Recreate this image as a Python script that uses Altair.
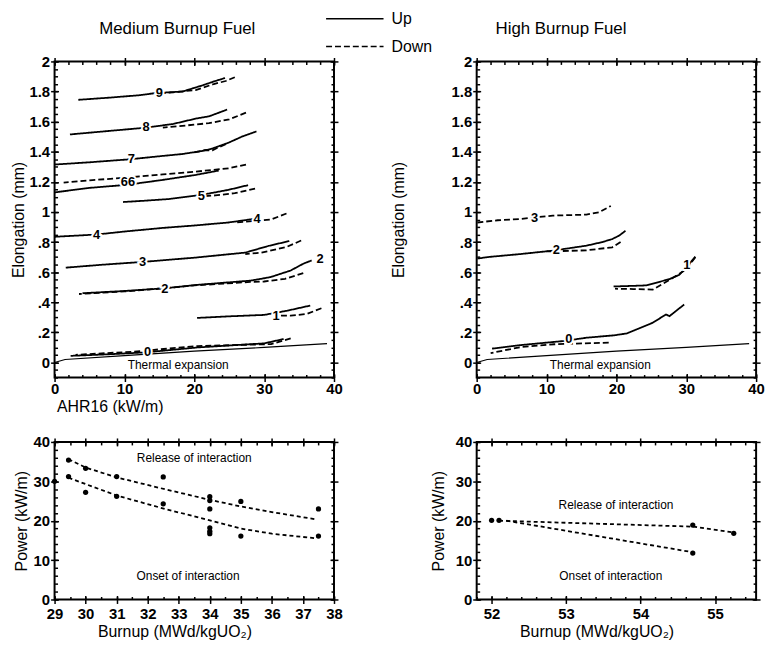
import altair as alt
import pandas as pd
import numpy as np

FONT = "Liberation Sans"

# ---------------- Medium burnup fuel: elongation (mm) vs AHR16 (kW/m)
med = {
    ("9", "Up"):   ([3.4, 8, 12, 14.5, 18.3, 21.1, 23, 24.4], [1.745, 1.76, 1.775, 1.79, 1.80, 1.84, 1.87, 1.89]),
    ("9", "Down"): ([25.8, 24.5, 22.8, 20.2, 17, 14.5], [1.895, 1.87, 1.85, 1.81, 1.795, 1.785]),
    ("8", "Up"):   ([2.2, 7, 13.1, 17, 20.2, 22.1, 24.7], [1.515, 1.535, 1.56, 1.585, 1.62, 1.635, 1.68]),
    ("8", "Down"): ([27.4, 25, 22.1, 18.3, 15.5], [1.66, 1.615, 1.59, 1.572, 1.56]),
    ("7", "Up"):   ([0, 5, 10.8, 15, 18.3, 21.1, 22.5, 24.9, 26.8, 28.9], [1.315, 1.33, 1.35, 1.37, 1.385, 1.405, 1.42, 1.46, 1.50, 1.535]),
    ("7", "Down"): ([24.5, 23.5, 22.6, 21.5, 20], [1.45, 1.43, 1.41, 1.41, 1.395]),
    ("6", "Up"):   ([0, 5, 10.3, 15.5, 20.2, 23.5], [1.13, 1.16, 1.18, 1.213, 1.246, 1.275]),
    ("6", "Down"): ([27.4, 24.9, 20.2, 15.5, 10.8, 5, 1.3], [1.315, 1.29, 1.268, 1.25, 1.23, 1.21, 1.195]),
    ("5", "Up"):   ([9.8, 13, 16.4, 21.1, 24.9, 27.7], [1.066, 1.075, 1.086, 1.114, 1.147, 1.178]),
    ("5", "Down"): ([28.7, 25.8, 23, 21.1], [1.155, 1.125, 1.11, 1.103]),
    ("4", "Up"):   ([0, 6, 10, 15.5, 20, 24.9, 28.7], [0.835, 0.85, 0.87, 0.894, 0.91, 0.93, 0.955]),
    ("4", "Down"): ([33.2, 31, 29.2, 25.8], [0.99, 0.95, 0.943, 0.93]),
    ("3", "Up"):   ([1.6, 7, 12.6, 20.2, 27.3, 30.6, 33.6], [0.63, 0.65, 0.668, 0.697, 0.73, 0.774, 0.807]),
    ("3", "Down"): ([35.3, 33.2, 29.6, 27.3], [0.81, 0.767, 0.73, 0.72]),
    ("2", "Up"):   ([4, 10, 15.8, 20.5, 28.1, 30.9, 33.8, 35.6, 36.8], [0.46, 0.475, 0.493, 0.516, 0.544, 0.567, 0.611, 0.656, 0.678]),
    ("2", "Down"): ([35.6, 33, 30, 28, 20, 15, 10, 3.5], [0.593, 0.556, 0.538, 0.535, 0.512, 0.49, 0.472, 0.455]),
    ("1", "Up"):   ([20.4, 25.2, 30, 33.3, 36.6], [0.296, 0.307, 0.316, 0.344, 0.378]),
    ("1", "Down"): ([38.2, 36.1, 33.8, 31.9], [0.36, 0.322, 0.311, 0.311]),
    ("0", "Up"):   ([2.3, 8, 13, 20.5, 30, 32.8], [0.044, 0.055, 0.067, 0.1, 0.127, 0.156]),
    ("0", "Down"): ([33.8, 31, 20.5, 11, 3], [0.16, 0.122, 0.109, 0.071, 0.051]),
}
med_lbl_text = ["9", "8", "7", "66", "5", "4", "4", "3", "2", "2", "1", "0"]
med_lbl_x = [15, 13.1, 11, 10.5, 21, 6, 29, 12.6, 15.8, 38.0, 31.7, 13.3]
med_lbl_y = [1.79, 1.562, 1.352, 1.2, 1.108, 0.85, 0.955, 0.668, 0.49, 0.685, 0.31, 0.068]

# ---------------- High burnup fuel
high = {
    ("3", "Down"): ([0.1, 3, 6.2, 10.9, 15.7, 17.5, 19.2], [0.93, 0.945, 0.953, 0.976, 0.982, 0.998, 1.04]),
    ("2", "Up"):   ([0.1, 1.5, 6.2, 10.9, 15.7, 18, 19.4, 20.4, 21.3], [0.69, 0.70, 0.72, 0.743, 0.776, 0.8, 0.82, 0.843, 0.875]),
    ("2", "Down"): ([20.6, 19.4, 15.7, 11.9, 10], [0.80, 0.765, 0.745, 0.74, 0.738]),
    ("1", "Up"):   ([19.6, 24.3, 27.6, 29, 30.1, 31.3], [0.505, 0.512, 0.554, 0.582, 0.637, 0.703]),
    ("1", "Down"): ([31.3, 29.9, 28, 25.2, 22.4, 19.8], [0.70, 0.615, 0.56, 0.484, 0.488, 0.49]),
    ("0", "Up"):   ([2.2, 6.4, 12.5, 15.8, 19.6, 21.5, 25.2, 27.1, 27.6, 29.7], [0.092, 0.116, 0.143, 0.165, 0.18, 0.193, 0.264, 0.319, 0.308, 0.385]),
    ("0", "Down"): ([18.9, 11.1, 6.4, 2], [0.132, 0.121, 0.103, 0.062]),
}
high_lbl_text = ["3", "2", "1", "0"]
high_lbl_x = [8.3, 11.4, 30.1, 13.2]
high_lbl_y = [0.96, 0.745, 0.645, 0.155]

# thermal expansion line (both panels)
therm_x = [0, 1.5, 10, 20, 30, 39]
therm_y = [0, 0.02, 0.045, 0.075, 0.1, 0.125]

# ---------------- Power vs burnup (medium)
bl_burnup = [29, 29.45, 29.45, 30, 30, 31, 31, 32.5, 32.5, 34, 34, 34, 34, 34, 34, 35, 35, 37.5, 37.5]
bl_power = [30, 35.4, 31.2, 33.3, 27.2, 31.2, 26.2, 31.1, 24.3, 26.1, 25.1, 23, 18.2, 17.3, 16.7, 24.9, 16.1, 23, 16.1]
bl_fit_x = [29.45, 30, 31, 32.55, 34, 35, 36, 37.45]
bl_release_y = [35.6, 33.5, 31, 28, 25.3, 23.6, 22.2, 20.3]
bl_onset_y = [30.9, 29.3, 26.4, 23, 20.1, 18, 16.7, 15.5]

# ---------------- Power vs burnup (high)
br_burnup = [52.0, 52.1, 54.7, 54.7, 55.25]
br_power = [20.1, 20.1, 18.9, 11.8, 16.8]
br_release_x = [52.1, 54.7, 55.25]
br_release_y = [20.0, 18.5, 17.0]
br_onset_x = [52.2, 54.7]
br_onset_y = [20.0, 12.0]


def curves_df(d):
    rows = []
    for (c, dr), (xs, ys) in d.items():
        for i, (x, y) in enumerate(zip(xs, ys)):
            rows.append({"curve": c + dr, "dir": dr, "seq": i, "x": x, "y": y})
    return pd.DataFrame(rows)


def rng(a, b, s):
    return [float(v) for v in np.round(np.arange(a, b + s / 2, s), 4)]


def frame(xdom, ydom, xmaj, xmin_, ymaj, ymin_, xtitle, ytitle, ytp, xextra, ylabexpr=None):
    d = pd.DataFrame({"x": xdom, "y": ydom})
    xs = alt.Scale(domain=xdom, nice=False, zero=False)
    ys = alt.Scale(domain=ydom, nice=False, zero=False)
    base = alt.Chart(d).mark_point(opacity=0)
    yax = dict(orient="left", values=ymaj, tickSize=8, offset=-4, domain=False, grid=False,
               labelPadding=1, titlePadding=ytp)
    if ylabexpr:
        yax["labelExpr"] = ylabexpr
    xax = dict(orient="bottom", values=xmaj, tickSize=8, offset=-4, domain=False, grid=False,
               titlePadding=2, **xextra)
    l1 = base.encode(
        x=alt.X("x:Q", scale=xs, title=xtitle if xtitle else None, axis=alt.Axis(**xax)),
        y=alt.Y("y:Q", scale=ys, title=ytitle, axis=alt.Axis(**yax)),
    )
    l2 = base.encode(
        x=alt.X("x:Q", scale=xs, title=None, axis=alt.Axis(orient="top", values=xmaj, tickSize=8, offset=-4, domain=False, labels=False, grid=False)),
        y=alt.Y("y:Q", scale=ys, title=None, axis=alt.Axis(orient="right", values=ymaj, tickSize=8, offset=-4, domain=False, labels=False, grid=False)),
    )
    l3 = base.encode(
        x=alt.X("x:Q", scale=xs, title=None, axis=alt.Axis(orient="bottom", values=xmin_, tickSize=3, offset=-3, domain=False, labels=False, grid=False)),
        y=alt.Y("y:Q", scale=ys, title=None, axis=alt.Axis(orient="left", values=ymin_, tickSize=3, offset=-3, domain=False, labels=False, grid=False)),
    )
    l4 = base.encode(
        x=alt.X("x:Q", scale=xs, title=None, axis=alt.Axis(orient="top", values=xmin_, tickSize=3, offset=-3, domain=False, labels=False, grid=False)),
        y=alt.Y("y:Q", scale=ys, title=None, axis=alt.Axis(orient="right", values=ymin_, tickSize=3, offset=-3, domain=False, labels=False, grid=False)),
    )
    return [l1, l2, l3, l4], xs, ys


dash = alt.StrokeDash(
    "dir:N",
    scale=alt.Scale(domain=["Up", "Down"], range=[[1, 0], [6, 3]]),
    legend=alt.Legend(title=None, orient="none", legendX=295, legendY=-51, symbolType="M-4,0H4",
                      symbolSize=210, symbolStrokeWidth=1.5, symbolStrokeColor="black", symbolFillColor="transparent",
                      labelFont=FONT, labelFontSize=16, labelColor="black", rowPadding=12, labelOffset=29),
)

YEXPR = "datum.value == 0 ? '0' : (datum.value < 1 ? replace(format(datum.value, '.1f'), '0.', '.') : format(datum.value, '.1~f'))"


def elong_panel(cdict, ltext, lx, ly, title, xtitle, ytp, tdx):
    axes, xs, ys = frame([0, 40], [-0.1, 2], rng(0, 40, 10), rng(0, 40, 2), rng(0, 2, 0.2), rng(-0.1, 2, 0.05),
                         xtitle, "Elongation (mm)", ytp, {"labelPadding": 0, "titleAnchor": "start", "titleX": 2}, YEXPR)
    cdf = curves_df(cdict)
    lines = alt.Chart(cdf).mark_line(color="black", strokeWidth=1.8).encode(
        x=alt.X("x:Q", scale=xs, axis=None), y=alt.Y("y:Q", scale=ys, axis=None),
        detail="curve:N", order="seq:Q", strokeDash=dash)
    tdf = pd.DataFrame({"x": therm_x, "y": therm_y})
    therm = alt.Chart(tdf).mark_line(color="black", strokeWidth=1.2).encode(
        x=alt.X("x:Q", scale=xs, axis=None), y=alt.Y("y:Q", scale=ys, axis=None))
    ldf = pd.DataFrame({"t": ltext, "x": lx, "y": ly})
    halo = alt.Chart(ldf).mark_text(font=FONT, fontSize=13, fontWeight="bold", stroke="white", strokeWidth=4, color="white").encode(
        x=alt.X("x:Q", scale=xs, axis=None), y=alt.Y("y:Q", scale=ys, axis=None), text="t:N")
    lab = alt.Chart(ldf).mark_text(font=FONT, fontSize=13, fontWeight="bold", color="black").encode(
        x=alt.X("x:Q", scale=xs, axis=None), y=alt.Y("y:Q", scale=ys, axis=None), text="t:N")
    tx = pd.DataFrame({"t": ["Thermal expansion"], "x": [17.7], "y": [-0.015]})
    ttxt = alt.Chart(tx).mark_text(font=FONT, fontSize=12, color="black").encode(
        x=alt.X("x:Q", scale=xs, axis=None), y=alt.Y("y:Q", scale=ys, axis=None), text="t:N")
    return alt.layer(*axes, therm, lines, halo, lab, ttxt).resolve_axis(x="independent", y="independent").properties(
        width=282, height=319,
        title=alt.Title(title, font=FONT, fontSize=17, fontWeight="normal", color="black", offset=17,
                        anchor="start", frame="group", dx=tdx))


def power_panel(xdom, xmaj, xmin_, px, py, fits, tpos, ytp):
    axes, xs, ys = frame(xdom, [0, 40], xmaj, xmin_, rng(0, 40, 10), rng(0, 40, 2),
                         "Burnup (MWd/kgUO\u2082)", "Power (kW/m)", ytp,
                         {"labelPadding": 3, "titleX": 121, "titleAlign": "center"})
    pts = alt.Chart(pd.DataFrame({"x": px, "y": py})).mark_circle(color="black", opacity=1, size=28).encode(
        x=alt.X("x:Q", scale=xs, axis=None), y=alt.Y("y:Q", scale=ys, axis=None))
    layers = list(axes)
    for fx, fy in fits:
        layers.append(alt.Chart(pd.DataFrame({"x": fx, "y": fy})).mark_line(
            color="black", strokeWidth=1.8, strokeDash=[4, 3]).encode(
            x=alt.X("x:Q", scale=xs, axis=None), y=alt.Y("y:Q", scale=ys, axis=None)))
    layers.append(pts)
    tdf = pd.DataFrame({"t": ["Release of interaction", "Onset of interaction"],
                        "x": [tpos[0][0], tpos[1][0]], "y": [tpos[0][1], tpos[1][1]]})
    layers.append(alt.Chart(tdf).mark_text(font=FONT, fontSize=12, color="black").encode(
        x=alt.X("x:Q", scale=xs, axis=None), y=alt.Y("y:Q", scale=ys, axis=None), text="t:N"))
    return alt.layer(*layers).resolve_axis(x="independent", y="independent").properties(width=282, height=159)


tl = elong_panel(med, med_lbl_text, med_lbl_x, med_lbl_y, "Medium Burnup Fuel", "AHR16 (kW/m)", 2, 45)
tr = elong_panel(high, high_lbl_text, high_lbl_x, high_lbl_y, "High Burnup Fuel", None, 45, 19)
bl = power_panel([29, 38], rng(29, 38, 1), rng(29, 38, 0.5), bl_burnup, bl_power,
                 [(bl_fit_x, bl_release_y), (bl_fit_x, bl_onset_y)],
                 [(33.5, 36), (33.3, 6)], 4)
br = power_panel([51.8, 55.55], rng(52, 55, 1), rng(51.8, 55.4, 0.2), br_burnup, br_power,
                 [(br_release_x, br_release_y), (br_onset_x, br_onset_y)],
                 [(53.67, 24), (53.6, 6)], 9)

chart = alt.ConcatChart(concat=[tl, tr, bl, br], columns=2, spacing={"row": 19, "column": 46}).properties(
    padding={"left": 2, "top": 0, "right": 2, "bottom": 2}, background="white"
).configure_view(stroke="black", strokeWidth=2).configure_axis(
    labelFont=FONT, labelFontSize=15, labelFontWeight="bold", labelColor="black",
    titleFont=FONT, titleFontSize=16, titleFontWeight="normal", titleColor="black",
    tickColor="black", tickWidth=1.5, labelFlush=False, labelOverlap=False,
)

chart.save("out.html", embed_options={"renderer": "svg", "actions": False})
